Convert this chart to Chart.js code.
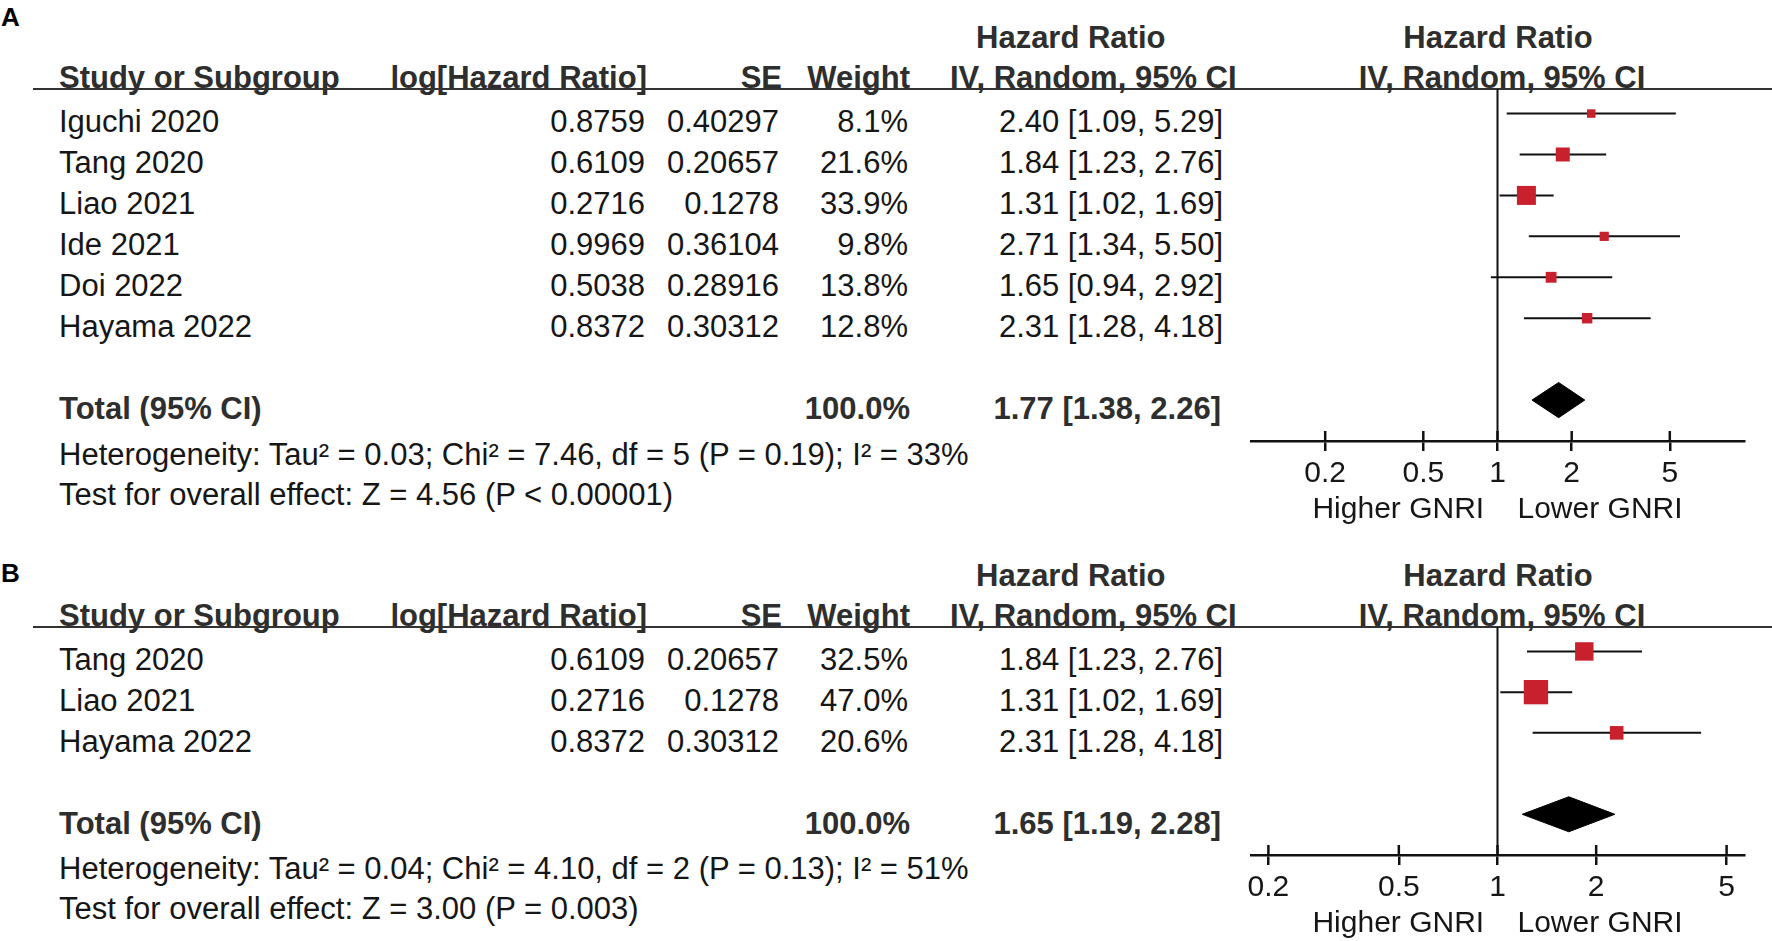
<!DOCTYPE html>
<html><head><meta charset="utf-8">
<script src="https://cdn.jsdelivr.net/npm/chart.js@4.4.1/dist/chart.umd.min.js"></script>
<style>
html,body{margin:0;padding:0;background:#fff;}
#page{position:relative;width:1772px;height:941px;overflow:hidden;background:#fff;font-family:"Liberation Sans",Arial,Helvetica,sans-serif;}
.t{position:absolute;white-space:nowrap;font-size:31px;line-height:31px;color:#161616;}
.b{font-weight:bold;color:#2e2e2e;}
.hl{position:absolute;height:2px;background:#333;}
.cw{position:absolute;}
</style></head><body><div id="page"></div>
<script>
// ---------- DATA ----------
const xTickValues = [0.2, 0.5, 1, 2, 5];

const studiesA = ['Iguchi 2020','Tang 2020','Liao 2021','Ide 2021','Doi 2022','Hayama 2022'];
const logHRA   = ['0.8759','0.6109','0.2716','0.9969','0.5038','0.8372'];
const seA      = ['0.40297','0.20657','0.1278','0.36104','0.28916','0.30312'];
const weightA  = [8.1, 21.6, 33.9, 9.8, 13.8, 12.8];
const hrA      = [2.40, 1.84, 1.31, 2.71, 1.65, 2.31];
const lowerA   = [1.09, 1.23, 1.02, 1.34, 0.94, 1.28];
const upperA   = [5.29, 2.76, 1.69, 5.50, 2.92, 4.18];
const totalWeightA = 100.0;
const totalHRA = [1.77, 1.38, 2.26];
const hetA  = 'Heterogeneity: Tau² = 0.03; Chi² = 7.46, df = 5 (P = 0.19); I² = 33%';
const testA = 'Test for overall effect: Z = 4.56 (P < 0.00001)';
const axisRangeA = [0.1, 10];

const studiesB = ['Tang 2020','Liao 2021','Hayama 2022'];
const logHRB   = ['0.6109','0.2716','0.8372'];
const seB      = ['0.20657','0.1278','0.30312'];
const weightB  = [32.5, 47.0, 20.6];
const hrB      = [1.84, 1.31, 2.31];
const lowerB   = [1.23, 1.02, 1.28];
const upperB   = [2.76, 1.69, 4.18];
const totalWeightB = 100.0;
const totalHRB = [1.65, 1.19, 2.28];
const hetB  = 'Heterogeneity: Tau² = 0.04; Chi² = 4.10, df = 2 (P = 0.13); I² = 51%';
const testB = 'Test for overall effect: Z = 3.00 (P = 0.003)';
const axisRangeB = [0.177, 5.65];

const axisTitle = 'Higher GNRI    Lower GNRI';

// ---------- STYLE / LAYOUT ----------
const FONT = '"Liberation Sans", Arial, Helvetica, sans-serif';
const RED = '#c8202c';
const INK = '#111111';
const page = document.getElementById('page');

function txt(s, x, y, align, bold, size, color) {
  size = size || 31;
  const d = document.createElement('div');
  d.className = 't' + (bold ? ' b' : '');
  d.textContent = s;
  d.style.fontSize = size + 'px';
  d.style.lineHeight = size + 'px';
  d.style.left = x + 'px';
  d.style.top = (y - size / 2) + 'px';
  if (color) d.style.color = color;
  if (align === 'right') d.style.transform = 'translateX(-100%)';
  else if (align === 'center') d.style.transform = 'translateX(-50%)';
  page.appendChild(d);
}
function hline(x, y, w) {
  const d = document.createElement('div');
  d.className = 'hl';
  d.style.left = x + 'px'; d.style.top = y + 'px'; d.style.width = w + 'px';
  page.appendChild(d);
}
const fmtCI = (h, l, u) => h.toFixed(2) + ' [' + l.toFixed(2) + ', ' + u.toFixed(2) + ']';
const markerSide = w => 5.2 + 0.407 * w;   // square side in px from weight
const DIAMOND_HALF = 0.43;                  // diamond half-height in row units

const forestExtras = {
  id: 'forestExtras',
  beforeDatasetsDraw(chart) {
    const {ctx, chartArea, scales:{x}} = chart;
    const px = x.getPixelForValue(1);
    ctx.save();
    ctx.strokeStyle = INK; ctx.lineWidth = 2;
    ctx.beginPath(); ctx.moveTo(px, chartArea.top); ctx.lineTo(px, chartArea.bottom); ctx.stroke();
    ctx.restore();
  },
  afterDraw(chart) {
    const {ctx, chartArea, scales:{x}} = chart;
    ctx.save();
    ctx.strokeStyle = INK; ctx.lineWidth = 2.5;
    x.ticks.forEach((t, i) => {
      const px = x.getPixelForTick(i);
      ctx.beginPath(); ctx.moveTo(px, chartArea.bottom - 10); ctx.lineTo(px, chartArea.bottom); ctx.stroke();
    });
    ctx.restore();
  }
};

function panel(p) {
  const L = p.lineY;
  const n = p.studies.length;
  txt(p.label, 1, p.labelY, 'left', true, 26, '#000');
  txt('Hazard Ratio', 976, L - 52, 'left', true);
  txt('Hazard Ratio', 1498, L - 52, 'center', true);
  txt('Study or Subgroup', 59, L - 12, 'left', true);
  txt('log[Hazard Ratio]', 647, L - 12, 'right', true);
  txt('SE', 782, L - 12, 'right', true);
  txt('Weight', 910, L - 12, 'right', true);
  txt('IV, Random, 95% CI', 950, L - 12, 'left', true);
  txt('IV, Random, 95% CI', 1502, L - 12, 'center', true);
  hline(33, L - 1, 1772 - 33);
  p.studies.forEach((s, i) => {
    const y = L + 32 + 41 * i;
    txt(s, 59, y);
    txt(p.logHR[i], 645, y, 'right');
    txt(p.se[i], 779, y, 'right');
    txt(p.weight[i].toFixed(1) + '%', 908, y, 'right');
    txt(fmtCI(p.hr[i], p.lower[i], p.upper[i]), 1223, y, 'right');
  });
  const ty = L + 32 + 41 * (n + 1);
  txt('Total (95% CI)', 59, ty, 'left', true);
  txt(p.totalWeight.toFixed(1) + '%', 910, ty, 'right', true);
  txt(fmtCI(p.total[0], p.total[1], p.total[2]), 1221, ty, 'right', true);
  txt(p.het, 59, p.axisY + 13);
  txt(p.test, 59, p.axisY + 53);

  // chart
  const top = L - 89;
  const h = 89 + (p.axisY - L) + 89;
  const wrap = document.createElement('div');
  wrap.className = 'cw';
  wrap.style.left = '1100px'; wrap.style.top = top + 'px';
  wrap.style.width = '672px'; wrap.style.height = h + 'px';
  const cv = document.createElement('canvas');
  cv.width = 672; cv.height = h;
  cv.style.width = '672px'; cv.style.height = h + 'px';
  wrap.appendChild(cv); page.appendChild(wrap);

  const datasets = [];
  p.studies.forEach((s, i) => {
    datasets.push({
      type: 'line', label: s + ' CI',
      data: [{x: p.lower[i], y: i}, {x: p.upper[i], y: i}],
      borderColor: INK, borderWidth: 2, pointRadius: 0, fill: false, order: 2
    });
  });
  datasets.push({
    type: 'scatter', label: 'HR',
    data: p.hr.map((v, i) => ({x: v, y: i})),
    pointStyle: 'rect',
    pointRadius: p.weight.map(w => markerSide(w) / Math.SQRT2),
    backgroundColor: RED, borderColor: RED, borderWidth: 0, order: 0
  });
  const r = n + 1, t = p.total;
  datasets.push({
    type: 'line', label: 'Total',
    data: [{x: t[1], y: r}, {x: t[0], y: r - DIAMOND_HALF}, {x: t[2], y: r}, {x: t[0], y: r + DIAMOND_HALF}, {x: t[1], y: r}],
    borderColor: '#000', backgroundColor: '#000', borderWidth: 1, pointRadius: 0,
    fill: 'shape', tension: 0, order: 1
  });

  new Chart(cv, {
    type: 'scatter',
    data: { datasets },
    plugins: [forestExtras],
    options: {
      responsive: false, animation: false, events: [],
      devicePixelRatio: 1,
      layout: { padding: { top: 89, left: 151, right: 28, bottom: 0 } },
      plugins: { legend: { display: false }, tooltip: { enabled: false } },
      scales: {
        x: {
          type: 'logarithmic', position: 'bottom',
          min: p.range[0], max: p.range[1],
          afterBuildTicks: s => { s.ticks = xTickValues.map(v => ({ value: v })); },
          afterFit: s => { s.height = 89; },
          ticks: {
            callback: v => String(v), autoSkip: false, maxRotation: 0,
            font: { family: FONT, size: 30 }, color: '#161616', padding: 5
          },
          grid: { display: true, drawOnChartArea: false, drawTicks: true, tickLength: 10, lineWidth: 2.5, color: INK },
          border: { display: true, width: 2.5, color: INK },
          title: { display: true, text: axisTitle, font: { family: FONT, size: 30 }, color: '#161616', padding: { top: 0, bottom: 2 } }
        },
        y: { type: 'linear', min: -0.6, max: n + 2, reverse: true, display: false }
      }
    }
  });
}

panel({ label: 'A', labelY: 17, lineY: 89, axisY: 441,
  studies: studiesA, logHR: logHRA, se: seA, weight: weightA, hr: hrA, lower: lowerA, upper: upperA,
  totalWeight: totalWeightA, total: totalHRA, het: hetA, test: testA, range: axisRangeA });
panel({ label: 'B', labelY: 573, lineY: 627, axisY: 855,
  studies: studiesB, logHR: logHRB, se: seB, weight: weightB, hr: hrB, lower: lowerB, upper: upperB,
  totalWeight: totalWeightB, total: totalHRB, het: hetB, test: testB, range: axisRangeB });
</script></body></html>
